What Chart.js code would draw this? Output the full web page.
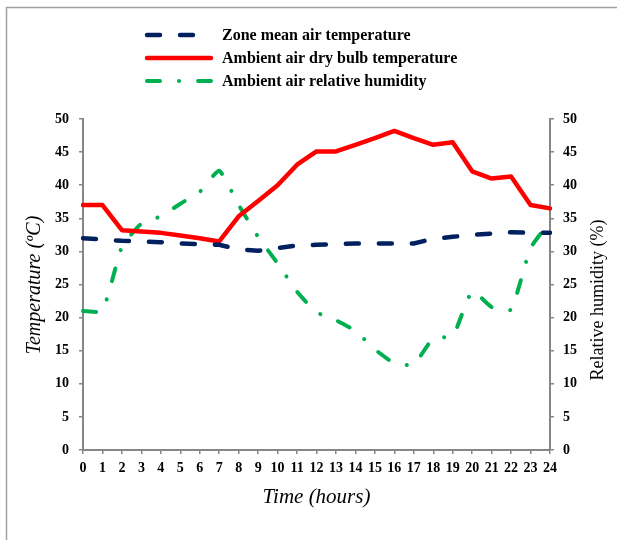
<!DOCTYPE html>
<html>
<head>
<meta charset="utf-8">
<script src="https://cdn.jsdelivr.net/npm/chart.js@4/dist/chart.umd.min.js"></script>
<style>
  html, body { margin: 0; padding: 0; background: #ffffff; }
  #wrap { position: relative; width: 617px; height: 540px; }
</style>
</head>
<body>
<div id="wrap"><canvas id="c" width="617" height="540"></canvas></div>
<script>
const hours = ['0','1','2','3','4','5','6','7','8','9','10','11','12','13','14','15','16','17','18','19','20','21','22','23','24'];
const zoneMeanTemp = [32.0, 31.8, 31.6, 31.5, 31.4, 31.2, 31.1, 31.0, 30.3, 30.1, 30.5, 30.9, 31.0, 31.1, 31.2, 31.2, 31.2, 31.2, 31.9, 32.2, 32.5, 32.7, 32.9, 32.8, 32.8];
const dryBulbTemp = [37.0, 37.0, 33.2, 33.0, 32.8, 32.4, 32.0, 31.5, 35.3, 37.6, 40.0, 43.1, 45.1, 45.1, 46.1, 47.1, 48.2, 47.1, 46.1, 46.5, 42.1, 41.0, 41.3, 37.0, 36.5];
const relHumidity = [21.0, 21.0, 30.7, 34.2, 35.3, 37.2, 39.0, 42.2, 37.0, 32.2, 28.2, 23.9, 20.8, 19.6, 18.0, 15.2, 13.1, 12.9, 16.9, 17.2, 24.0, 21.6, 21.2, 30.5, 34.5];
const seriesNames = ['Zone mean air temperature', 'Ambient air dry bulb temperature', 'Ambient air relative humidity'];
const yTickValues = [0, 5, 10, 15, 20, 25, 30, 35, 40, 45, 50];

const SERIF = '"Liberation Serif", "Times New Roman", serif';
const AXIS_GRAY = '#868686';

const legendPlugin = {
  id: 'customLegend',
  afterDraw(chart) {
    const ctx = chart.ctx;
    ctx.save();
    // outer frame (cropped on right/bottom)
    ctx.strokeStyle = '#a0a0a0';
    ctx.lineWidth = 1.5;
    ctx.strokeRect(6.5, 7.5, 800, 800);
    // legend
    const rows = [35, 58, 81];
    chart.data.datasets.forEach((ds, i) => {
      const y = rows[i];
      ctx.beginPath();
      ctx.strokeStyle = ds.borderColor;
      ctx.lineWidth = ds.borderWidth;
      ctx.lineCap = ds.borderCapStyle || 'butt';
      ctx.setLineDash(ds.borderDash || []);
      ctx.moveTo(147, y);
      ctx.lineTo(211, y);
      ctx.stroke();
      ctx.setLineDash([]);
      ctx.fillStyle = '#000000';
      ctx.font = 'bold 16px ' + SERIF;
      ctx.textAlign = 'left';
      ctx.textBaseline = 'middle';
      ctx.fillText(ds.label, 222, y + 1);
    });
    // axis titles
    const ca = chart.chartArea;
    ctx.fillStyle = '#000000';
    ctx.textAlign = 'center';
    ctx.textBaseline = 'middle';
    ctx.font = 'italic 21px ' + SERIF;
    ctx.fillText('Time (hours)', (ca.left + ca.right) / 2, 497);
    ctx.save();
    ctx.translate(35, 285);
    ctx.rotate(-Math.PI / 2);
    ctx.font = 'italic 20px ' + SERIF;
    ctx.fillText('Temperature (ºC)', 0, 0);
    ctx.restore();
    ctx.save();
    ctx.translate(598, 300);
    ctx.rotate(-Math.PI / 2);
    ctx.font = '18px ' + SERIF;
    ctx.fillText('Relative humidity (%)', 0, 0);
    ctx.restore();
    ctx.restore();
  }
};

const tickFont = { family: SERIF, size: 14, weight: 'bold' };

new Chart(document.getElementById('c'), {
  type: 'line',
  data: {
    labels: hours,
    datasets: [
      {
        label: seriesNames[0],
        data: zoneMeanTemp,
        yAxisID: 'y',
        borderColor: '#002060',
        borderWidth: 4.5,
        borderDash: [13, 20],
        borderCapStyle: 'round',
        pointRadius: 0,
        tension: 0,
        fill: false
      },
      {
        label: seriesNames[1],
        data: dryBulbTemp,
        yAxisID: 'y',
        borderColor: '#ff0000',
        borderWidth: 4.5,
        borderCapStyle: 'round',
        borderJoinStyle: 'round',
        pointRadius: 0,
        tension: 0,
        fill: false
      },
      {
        label: seriesNames[2],
        data: relHumidity,
        yAxisID: 'y1',
        borderColor: '#00b050',
        borderWidth: 4,
        borderDash: [13, 19, 0.1, 19],
        borderCapStyle: 'round',
        pointRadius: 0,
        tension: 0.15,
        fill: false
      }
    ]
  },
  options: {
    responsive: false,
    animation: false,
    layout: { padding: { top: 119, left: 0, right: 0, bottom: 0 } },
    plugins: {
      legend: { display: false },
      tooltip: { enabled: false }
    },
    scales: {
      x: {
        type: 'category',
        offset: false,
        grid: { drawOnChartArea: false, drawTicks: true, tickLength: 4, color: AXIS_GRAY, lineWidth: 1.5 },
        border: { color: AXIS_GRAY, width: 2 },
        ticks: { font: tickFont, color: '#000000', padding: 6, maxRotation: 0, autoSkip: false },
        afterFit(s) { s.height = 90; }
      },
      y: {
        position: 'left',
        min: 0, max: 50,
        afterBuildTicks(s) { s.ticks = yTickValues.map(v => ({ value: v })); },
        grid: { drawOnChartArea: false, drawTicks: true, tickLength: 4, color: AXIS_GRAY, lineWidth: 1.5 },
        border: { color: AXIS_GRAY, width: 2 },
        ticks: { font: tickFont, color: '#000000', padding: 10 },
        afterFit(s) { s.width = 83; }
      },
      y1: {
        position: 'right',
        min: 0, max: 50,
        afterBuildTicks(s) { s.ticks = yTickValues.map(v => ({ value: v })); },
        grid: { drawOnChartArea: false, drawTicks: true, tickLength: 4, color: AXIS_GRAY, lineWidth: 1.5 },
        border: { color: AXIS_GRAY, width: 2 },
        ticks: { font: tickFont, color: '#000000', padding: 9 },
        afterFit(s) { s.width = 67; }
      }
    }
  },
  plugins: [legendPlugin]
});
</script>
</body>
</html>
